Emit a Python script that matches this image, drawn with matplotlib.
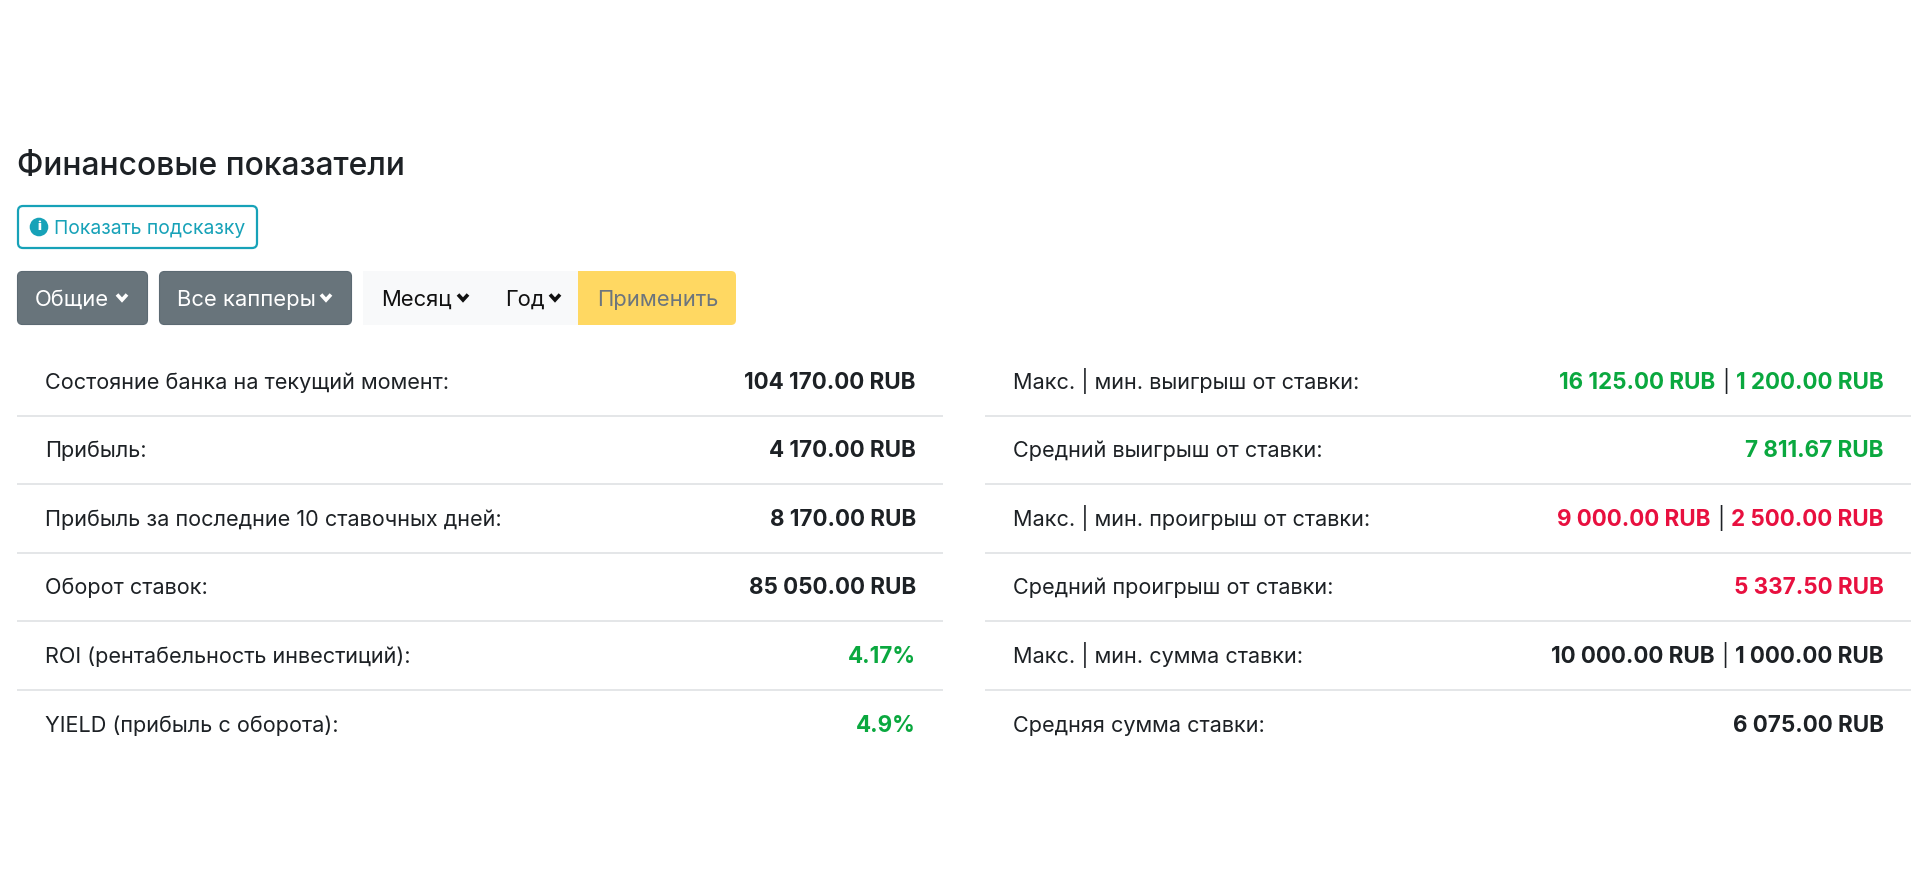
import matplotlib
matplotlib.use("Agg")
import matplotlib.pyplot as plt
from matplotlib.patches import FancyBboxPatch, Rectangle, Circle

plt.rcParams['font.family'] = ['Inter', 'DejaVu Sans']

TITLE = "Финансовые показатели"
HINT = "Показать подсказку"
BTN_GENERAL = "Общие"
BTN_CAPPERS = "Все капперы"
BTN_MONTH = "Месяц"
BTN_YEAR = "Год"
BTN_APPLY = "Применить"

DARK = "#1d2125"
GREEN = "#0aa83f"
RED = "#e8103f"
TEAL = "#17a2b8"

left_labels = ["Состояние банка на текущий момент:", "Прибыль:",
               "Прибыль за последние 10 ставочных дней:", "Оборот ставок:",
               "ROI (рентабельность инвестиций):", "YIELD (прибыль с оборота):"]
left_values = [[("104 170.00 RUB", DARK)], [("4 170.00 RUB", DARK)],
               [("8 170.00 RUB", DARK)], [("85 050.00 RUB", DARK)],
               [("4.17%", GREEN)], [("4.9%", GREEN)]]
right_labels = ["Макс. | мин. выигрыш от ставки:", "Средний выигрыш от ставки:",
                "Макс. | мин. проигрыш от ставки:", "Средний проигрыш от ставки:",
                "Макс. | мин. сумма ставки:", "Средняя сумма ставки:"]
right_values = [[("16 125.00 RUB", GREEN), ("|", DARK), ("1 200.00 RUB", GREEN)],
                [("7 811.67 RUB", GREEN)],
                [("9 000.00 RUB", RED), ("|", DARK), ("2 500.00 RUB", RED)],
                [("5 337.50 RUB", RED)],
                [("10 000.00 RUB", DARK), ("|", DARK), ("1 000.00 RUB", DARK)],
                [("6 075.00 RUB", DARK)]]

W, H = 1916, 894
px = 0.72
fig = plt.figure(figsize=(W / 100, H / 100), dpi=100, facecolor="white")
ax = fig.add_axes([0, 0, 1, 1])
ax.set_xlim(0, W)
ax.set_ylim(H, 0)
ax.axis("off")


def rbox(x0, y0, x1, y1, fc, ec="none", lw=0, r=5, z=1):
    ax.add_patch(FancyBboxPatch((x0 + r, y0 + r), x1 - x0 - 2 * r, y1 - y0 - 2 * r,
                                boxstyle=f"round,pad={r},rounding_size={r}",
                                fc=fc, ec=ec, lw=lw, zorder=z, mutation_aspect=1))


def chevron(x, y, color, s=5.0):
    ax.plot([x - s, x, x + s], [y - s * 0.5, y + s * 0.6, y - s * 0.5], color=color,
            lw=2.6, solid_capstyle="butt", solid_joinstyle="miter", zorder=3)


BODY = 21.65 * px
BOLD = 22.4 * px
BTN = 22.0 * px
ax.text(17, 175, TITLE, fontsize=31.8 * px, fontweight=500, color=DARK, va="baseline")

# hint button
rbox(18, 206, 257, 248, "white", ec=TEAL, lw=1.6)
ax.add_patch(Circle((39, 227), 9.3, fc=TEAL, ec="none", zorder=3))
ax.text(39, 227.5, "i", fontsize=13 * px, fontweight=900, color="white",
        ha="center", va="center", zorder=4)
ax.text(54, 234, HINT, fontsize=19.3 * px, color=TEAL, va="baseline")

# filter buttons
BTN_GREY = "#68747b"
rbox(17.5, 271.5, 147.5, 324.5, BTN_GREY, ec="#5c6a73", lw=0.8)
rbox(159.5, 271.5, 351.5, 324.5, BTN_GREY, ec="#5c6a73", lw=0.8)
ax.add_patch(Rectangle((363, 271), 216, 54, fc="#f8f9fa", ec="none", zorder=1))
rbox(578, 271, 736, 325, "#ffd862", r=5)
ax.add_patch(Rectangle((578, 271), 8, 54, fc="#ffd862", ec="none", zorder=1))

ax.text(35, 306, BTN_GENERAL, fontsize=BTN, color="white", va="baseline", zorder=3)
chevron(122, 297, "white")
ax.text(177, 306, BTN_CAPPERS, fontsize=BTN, color="white", va="baseline", zorder=3)
chevron(326, 297, "white")
ax.text(381, 306, BTN_MONTH, fontsize=BTN, color="#111111", va="baseline", zorder=3)
chevron(463, 297, "#111111")
ax.text(505, 306, BTN_YEAR, fontsize=BTN, color="#111111", va="baseline", zorder=3)
chevron(555, 297, "#111111")
ax.text(597, 306, BTN_APPLY, fontsize=BTN, color="#6c757d", va="baseline", zorder=3)

# rows
row_base = [389, 457, 526, 594, 663, 732]
rule_y = [415.5, 484, 552.5, 621, 690]
renderer = fig.canvas.get_renderer()
SEP_GAP = 7


def column(x0, x1, label_x, value_end, labels, values):
    for y in rule_y:
        ax.plot([x0, x1], [y, y], color="#dcdfe2", lw=1.1, zorder=1, solid_capstyle="butt")
    for base, lab, parts in zip(row_base, labels, values):
        ax.text(label_x, base, lab, fontsize=BODY, color=DARK, va="baseline")
        x = value_end
        for s, c in reversed(parts):
            is_sep = s == "|"
            if is_sep:
                x -= SEP_GAP
            t = ax.text(x, base, s, fontsize=BODY if is_sep else BOLD, color=c, ha="right",
                        va="baseline", fontweight=400 if is_sep else 700)
            x -= t.get_window_extent(renderer).width
            if is_sep:
                x -= SEP_GAP


column(17, 943, 45, 916, left_labels, left_values)
column(985, 1911, 1013, 1884, right_labels, right_values)

fig.savefig("out.png", dpi=100, facecolor="white")
